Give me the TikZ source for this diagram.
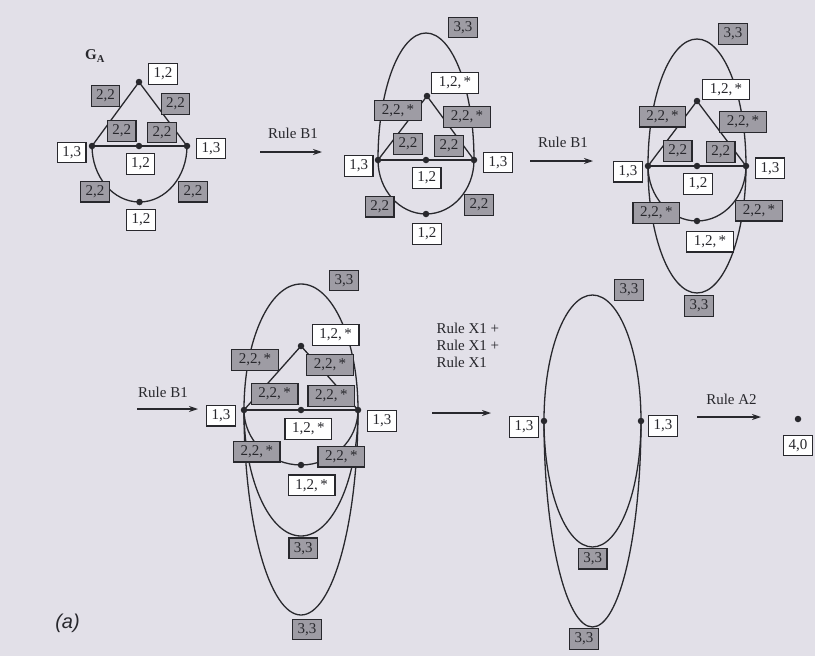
\documentclass[tikz,border=0pt]{standalone}
\usepackage{fontspec}
\setmainfont{Liberation Serif}
\newfontfamily\capfont{Liberation Sans}
\usetikzlibrary{arrows.meta}
\definecolor{paper}{RGB}{226,224,232}
\definecolor{boxgray}{RGB}{158,156,164}
\definecolor{ink}{RGB}{40,40,45}
\newcommand{\st}{\,*}
\tikzset{
 lab/.style={draw=ink, line width=1.2pt, font=\fontsize{15}{15}\selectfont, text=ink, inner xsep=5pt, inner ysep=3.5pt, text height=10.5pt, text depth=3pt},
 wl/.style={lab, fill=white},
 gl/.style={lab, fill=boxgray},
 wls/.style={wl, inner xsep=7pt},
 gls/.style={gl, inner xsep=7pt},
 vtx/.style={circle, fill=ink, inner sep=0pt, minimum size=6.5pt},
 edge/.style={draw=ink, line width=1.3pt},
 rulearrow/.style={draw=ink, line width=1.2pt, -{Stealth[length=9pt,width=6pt]}},
 ruletext/.style={font=\fontsize{15}{15}\selectfont, text=ink},
}
\begin{document}
\begin{tikzpicture}[x=1pt,y=-1pt]
\fill[paper] (0,0) rectangle (815,656);
\useasboundingbox (0,0) rectangle (815,656);

% ---------- Graph 1 (G_A)
\node[ruletext] (ga) at (95,56) {\textbf{G}\textsubscript{\textbf{A}}};
\node[vtx] (T1) at (139,82) {};
\node[vtx] (L1) at (92,146) {};
\node[vtx] (M1) at (139,146) {};
\node[vtx] (R1) at (187,146) {};
\draw[edge] (L1.center) -- (T1.center) -- (R1.center);
\draw[edge] (L1.center) -- (M1.center) -- (R1.center);
\draw[edge] (L1.center) arc[start angle=180, end angle=0, x radius=47.5, y radius=56];
\node[vtx] (B1) at (139.5,202) {};

% ---------- Graph 2
\node[vtx] (T2) at (427,96) {};
\node[vtx] (L2) at (378,160) {};
\node[vtx] (M2) at (426,160) {};
\node[vtx] (R2) at (474,160) {};
\draw[edge] (L2.center) arc[start angle=180, end angle=360, x radius=48, y radius=127];
\draw[edge] (L2.center) arc[start angle=180, end angle=0, x radius=48, y radius=54];
\draw[edge] (L2.center) -- (T2.center) -- (R2.center);
\draw[edge] (L2.center) -- (M2.center) -- (R2.center);
\node[vtx] (B2) at (426,214) {};

% ---------- Graph 3
\node[vtx] (T3) at (697,101) {};
\node[vtx] (L3) at (648,166) {};
\node[vtx] (M3) at (697,166) {};
\node[vtx] (R3) at (746,166) {};
\draw[edge] (M3.center) ellipse[x radius=49, y radius=127];
\draw[edge] (L3.center) arc[start angle=180, end angle=0, x radius=49, y radius=55];
\draw[edge] (L3.center) -- (T3.center) -- (R3.center);
\draw[edge] (L3.center) -- (M3.center) -- (R3.center);
\node[vtx] (B3) at (697,221) {};

% ---------- Graph 4
\node[vtx] (T4) at (301,346) {};
\node[vtx] (L4) at (244,410) {};
\node[vtx] (M4) at (301,410) {};
\node[vtx] (R4) at (358,410) {};
\draw[edge] (M4.center) ellipse[x radius=57, y radius=126];
\draw[edge] (L4.center) arc[start angle=180, end angle=0, x radius=57, y radius=205];
\draw[edge] (L4.center) arc[start angle=180, end angle=0, x radius=57, y radius=55];
\draw[edge] (L4.center) -- (T4.center) -- (R4.center);
\draw[edge] (L4.center) -- (M4.center) -- (R4.center);
\node[vtx] (B4) at (301,465) {};

% ---------- Graph 5
\node[vtx] (L5) at (544,421) {};
\node[vtx] (R5) at (641,421) {};
\coordinate (C5) at (592.5,421);
\draw[edge] (C5) ellipse[x radius=48.5, y radius=126];
\draw[edge] (L5.center) arc[start angle=180, end angle=0, x radius=48.5, y radius=206];

% ---------- Graph 6
\node[vtx] (V6) at (798,419) {};
\node[wl] (g6a) at (798,445.5) {4,0};

% ---------- labels graph 1
\node[wl] (g1a) at (163,74) {1,2};
\node[gl] (g1b) at (105.5,96) {2,2};
\node[gl] (g1c) at (175.5,104) {2,2};
\node[gl] (g1d) at (121.7,131) {2,2};
\node[gl] (g1e) at (162,132.5) {2,2};
\node[wl] (g1f) at (71.7,152.5) {1,3};
\node[wl] (g1g) at (211,148.5) {1,3};
\node[wl] (g1h) at (140.5,164) {1,2};
\node[gl] (g1i) at (95,191.7) {2,2};
\node[gl] (g1j) at (193,191.7) {2,2};
\node[wl] (g1k) at (141,220) {1,2};

% ---------- labels graph 2
\node[gl] (g2a) at (463,27.5) {3,3};
\node[wls] (g2b) at (455,83) {1,2,\st};
\node[gls] (g2c) at (398,110.5) {2,2,\st};
\node[gls] (g2d) at (467,117) {2,2,\st};
\node[gl] (g2e) at (408,144) {2,2};
\node[gl] (g2f) at (449,146) {2,2};
\node[wl] (g2g) at (358.7,166) {1,3};
\node[wl] (g2h) at (498,162.5) {1,3};
\node[wl] (g2i) at (426.7,178) {1,2};
\node[gl] (g2j) at (379.7,206.7) {2,2};
\node[gl] (g2k) at (479,205) {2,2};
\node[wl] (g2l) at (427,234) {1,2};

% ---------- labels graph 3
\node[gl] (g3a) at (733,34) {3,3};
\node[wls] (g3b) at (726,89.5) {1,2,\st};
\node[gls] (g3c) at (662.5,116.7) {2,2,\st};
\node[gls] (g3d) at (743,122) {2,2,\st};
\node[gl] (g3e) at (677.7,151) {2,2};
\node[gl] (g3f) at (720.7,152) {2,2};
\node[wl] (g3g) at (628,171.7) {1,3};
\node[wl] (g3h) at (770,168.3) {1,3};
\node[wl] (g3i) at (698,184) {1,2};
\node[gls] (g3j) at (656.3,213) {2,2,\st};
\node[gls] (g3k) at (759,210.8) {2,2,\st};
\node[wls] (g3l) at (710,241.7) {1,2,\st};
\node[gl] (g3m) at (699,306) {3,3};

% ---------- labels graph 4
\node[gl] (g4a) at (344,280.5) {3,3};
\node[wls] (g4b) at (335.7,335) {1,2,\st};
\node[gls] (g4c) at (255,360) {2,2,\st};
\node[gls] (g4d) at (330,365) {2,2,\st};
\node[gls] (g4e) at (274.7,394) {2,2,\st};
\node[gls] (g4f) at (331.3,396) {2,2,\st};
\node[wl] (g4g) at (221,415.7) {1,3};
\node[wl] (g4h) at (382,421) {1,3};
\node[wls] (g4i) at (308.3,429) {1,2,\st};
\node[gls] (g4j) at (256.8,451.7) {2,2,\st};
\node[gls] (g4k) at (341.3,456.7) {2,2,\st};
\node[wls] (g4l) at (311.7,485.3) {1,2,\st};
\node[gl] (g4m) at (303.3,548.3) {3,3};
\node[gl] (g4n) at (307,629.5) {3,3};

% ---------- labels graph 5
\node[gl] (g5a) at (629,290) {3,3};
\node[wl] (g5b) at (524,427) {1,3};
\node[wl] (g5c) at (663,426) {1,3};
\node[gl] (g5d) at (592.7,558.8) {3,3};
\node[gl] (g5e) at (584,639) {3,3};

% ---------- rule arrows
\coordinate (a1s) at (260,152); \coordinate (a1e) at (322,152);
\draw[rulearrow] (a1s) -- (a1e);
\node[ruletext] (r1) at (293,133) {Rule B1};

\coordinate (a2s) at (530,161); \coordinate (a2e) at (593,161);
\draw[rulearrow] (a2s) -- (a2e);
\node[ruletext] (r2) at (563,142) {Rule B1};

\coordinate (a3s) at (137,409); \coordinate (a3e) at (198,409);
\draw[rulearrow] (a3s) -- (a3e);
\node[ruletext] (r3) at (163,392) {Rule B1};

\coordinate (a4s) at (432,413); \coordinate (a4e) at (491,413);
\draw[rulearrow] (a4s) -- (a4e);
\node[ruletext, align=left, anchor=west] (r4) at (433,345) {Rule X1 +\\[2pt]Rule X1 +\\[2pt]Rule X1};

\coordinate (a5s) at (697,417); \coordinate (a5e) at (761,417);
\draw[rulearrow] (a5s) -- (a5e);
\node[ruletext] (r5) at (731.5,399) {Rule A2};

\node[font=\capfont\itshape\fontsize{20}{20}\selectfont, text=ink] (cap) at (67.5,623) {(a)};
\end{tikzpicture}
\end{document}
